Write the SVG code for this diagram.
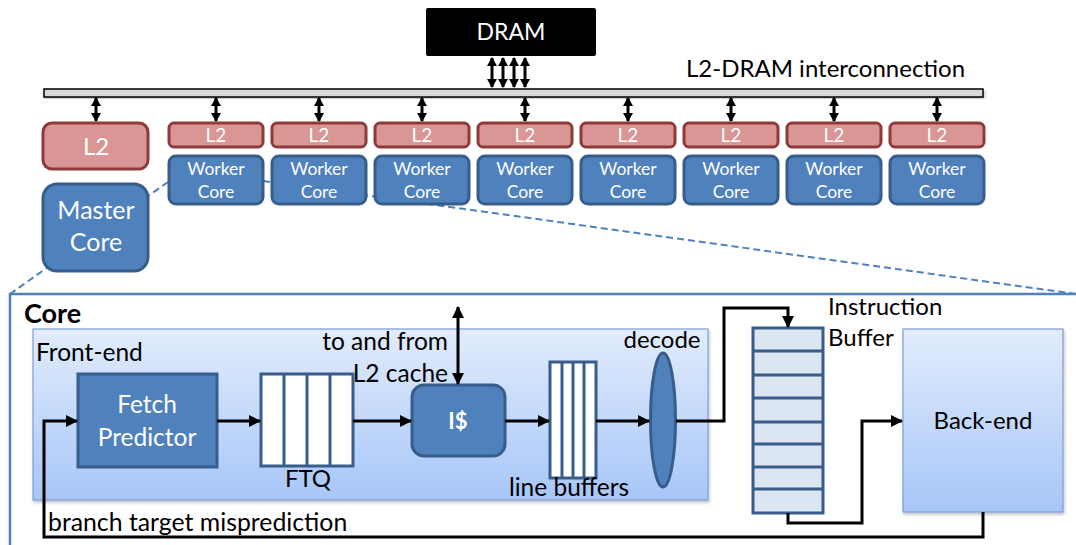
<svg xmlns="http://www.w3.org/2000/svg" width="1076" height="545" viewBox="0 0 1076 545">
  <style>
    text { font-family: Lato, "Liberation Sans", sans-serif; }
    .l2 { fill: #d99694; stroke: #8e3a38; stroke-width: 3; }
    .core { fill: #4f81bd; stroke: #385d8a; stroke-width: 3; }
    .wt { fill: #ffffff; text-anchor: middle; }
    .bt { fill: #000000; }
    .wire { fill: none; stroke: #000000; stroke-width: 3; }
    .bus { fill: none; stroke: #000000; stroke-width: 3; }
    .dash { fill: none; stroke: #4f81bd; stroke-width: 2; stroke-dasharray: 7 4; }
    .buf { fill: #ffffff; stroke: #385d8a; stroke-width: 3; }
  </style>
  <defs>
    <marker id="ah" markerUnits="userSpaceOnUse" markerWidth="12" markerHeight="12" viewBox="0 0 12 12" refX="11" refY="6" orient="auto-start-reverse">
      <path d="M0,0 L12,6 L0,12 z" fill="#000"/>
    </marker>
    <marker id="sh" markerUnits="userSpaceOnUse" markerWidth="9" markerHeight="10" viewBox="0 0 9 10" refX="8" refY="5" orient="auto-start-reverse">
      <path d="M0,0 L9,5 L0,10 z" fill="#000"/>
    </marker>
    <linearGradient id="pane" x1="0" y1="0" x2="0" y2="1">
      <stop offset="0" stop-color="#e2ecfc"/>
      <stop offset="1" stop-color="#a7c6f8"/>
    </linearGradient>
    <filter id="shadow" x="-5%" y="-5%" width="110%" height="120%">
      <feDropShadow dx="1" dy="2" stdDeviation="1.5" flood-color="#000" flood-opacity="0.25"/>
    </filter>
  </defs>

  <!-- call-out lines from the first worker core down to the enlarged view; drawn first so the boxes cover them -->
  <g id="callout">
    <path d="M168,182 L10,294" class="dash"/>
    <path d="M263,181 L1076,294" class="dash"/>
  </g>

  <!-- memory -->
  <g id="dram">
    <rect x="426" y="8" width="170" height="48" rx="2" fill="#000"/>
    <text x="511" y="40" class="wt" font-size="23">DRAM</text>
  </g>

  <g id="interconnect">
    <rect x="44" y="89" width="939" height="8" fill="#d9d9d9" stroke="#000" stroke-width="1.5" filter="url(#shadow)"/>
    <text x="686" y="77" class="bt" font-size="24">L2-DRAM interconnection</text>
  </g>

  <!-- master core and its L2 -->
  <g id="master-l2">
    <rect x="43" y="123" width="105" height="46" rx="9" class="l2"/>
    <text x="96" y="155" class="wt" font-size="24">L2</text>
  </g>
  <g id="master-core">
    <rect x="43" y="184" width="105" height="87" rx="14" class="core"/>
    <text x="96" y="219" class="wt" font-size="25">Master</text>
    <text x="96" y="251" class="wt" font-size="25">Core</text>
  </g>

  <!-- worker cores, each with a private L2 -->
  <g id="worker-1" transform="translate(169,0)">
    <rect x="0" y="123" width="94" height="24" rx="5" class="l2"/>
    <text x="47" y="142" class="wt" font-size="19">L2</text>
    <rect x="0" y="156" width="94" height="48" rx="7" class="core"/>
    <text x="47" y="175" class="wt" font-size="17.5">Worker</text>
    <text x="47" y="198" class="wt" font-size="17.5">Core</text>
  </g>
  <g id="worker-2" transform="translate(272,0)">
    <rect x="0" y="123" width="94" height="24" rx="5" class="l2"/>
    <text x="47" y="142" class="wt" font-size="19">L2</text>
    <rect x="0" y="156" width="94" height="48" rx="7" class="core"/>
    <text x="47" y="175" class="wt" font-size="17.5">Worker</text>
    <text x="47" y="198" class="wt" font-size="17.5">Core</text>
  </g>
  <g id="worker-3" transform="translate(375,0)">
    <rect x="0" y="123" width="94" height="24" rx="5" class="l2"/>
    <text x="47" y="142" class="wt" font-size="19">L2</text>
    <rect x="0" y="156" width="94" height="48" rx="7" class="core"/>
    <text x="47" y="175" class="wt" font-size="17.5">Worker</text>
    <text x="47" y="198" class="wt" font-size="17.5">Core</text>
  </g>
  <g id="worker-4" transform="translate(478,0)">
    <rect x="0" y="123" width="94" height="24" rx="5" class="l2"/>
    <text x="47" y="142" class="wt" font-size="19">L2</text>
    <rect x="0" y="156" width="94" height="48" rx="7" class="core"/>
    <text x="47" y="175" class="wt" font-size="17.5">Worker</text>
    <text x="47" y="198" class="wt" font-size="17.5">Core</text>
  </g>
  <g id="worker-5" transform="translate(581,0)">
    <rect x="0" y="123" width="94" height="24" rx="5" class="l2"/>
    <text x="47" y="142" class="wt" font-size="19">L2</text>
    <rect x="0" y="156" width="94" height="48" rx="7" class="core"/>
    <text x="47" y="175" class="wt" font-size="17.5">Worker</text>
    <text x="47" y="198" class="wt" font-size="17.5">Core</text>
  </g>
  <g id="worker-6" transform="translate(684,0)">
    <rect x="0" y="123" width="94" height="24" rx="5" class="l2"/>
    <text x="47" y="142" class="wt" font-size="19">L2</text>
    <rect x="0" y="156" width="94" height="48" rx="7" class="core"/>
    <text x="47" y="175" class="wt" font-size="17.5">Worker</text>
    <text x="47" y="198" class="wt" font-size="17.5">Core</text>
  </g>
  <g id="worker-7" transform="translate(787,0)">
    <rect x="0" y="123" width="94" height="24" rx="5" class="l2"/>
    <text x="47" y="142" class="wt" font-size="19">L2</text>
    <rect x="0" y="156" width="94" height="48" rx="7" class="core"/>
    <text x="47" y="175" class="wt" font-size="17.5">Worker</text>
    <text x="47" y="198" class="wt" font-size="17.5">Core</text>
  </g>
  <g id="worker-8" transform="translate(890,0)">
    <rect x="0" y="123" width="94" height="24" rx="5" class="l2"/>
    <text x="47" y="142" class="wt" font-size="19">L2</text>
    <rect x="0" y="156" width="94" height="48" rx="7" class="core"/>
    <text x="47" y="175" class="wt" font-size="17.5">Worker</text>
    <text x="47" y="198" class="wt" font-size="17.5">Core</text>
  </g>

  <!-- enlarged view of one core -->
  <g id="core-frame">
    <rect x="10" y="294" width="1100" height="300" fill="#ffffff" stroke="#4f81bd" stroke-width="2.5" filter="url(#shadow)"/>
    <text x="24" y="323" class="bt" font-size="27" font-weight="bold">Core</text>
  </g>

  <g id="front-end">
    <rect x="33" y="329" width="675" height="171" fill="url(#pane)" stroke="#7aa0d6" stroke-width="1.2" filter="url(#shadow)"/>
    <text x="36" y="361" class="bt" font-size="24.5">Front-end</text>
  </g>

  <g id="fetch-predictor">
    <rect x="78" y="374" width="139" height="93" class="core"/>
    <text x="147" y="413" class="wt" font-size="24.5">Fetch</text>
    <text x="147" y="446" class="wt" font-size="24.5">Predictor</text>
  </g>

  <g id="ftq">
    <rect x="261" y="374" width="92" height="92" class="buf"/>
    <line x1="284" y1="374" x2="284" y2="466" stroke="#385d8a" stroke-width="3"/>
    <line x1="307" y1="374" x2="307" y2="466" stroke="#385d8a" stroke-width="3"/>
    <line x1="330" y1="374" x2="330" y2="466" stroke="#385d8a" stroke-width="3"/>
    <text x="308" y="487" class="bt" font-size="24" text-anchor="middle">FTQ</text>
  </g>

  <g id="icache">
    <rect x="412" y="385" width="93" height="71" rx="12" class="core"/>
    <text x="458" y="429" class="wt" font-size="22" font-weight="bold">I$</text>
    <text x="448" y="350" class="bt" font-size="24.5" text-anchor="end">to and from</text>
    <text x="448" y="382" class="bt" font-size="24.5" text-anchor="end">L2 cache</text>
  </g>

  <g id="line-buffers">
    <rect x="550" y="362" width="46" height="116" class="buf"/>
    <line x1="562" y1="362" x2="562" y2="478" stroke="#385d8a" stroke-width="3"/>
    <line x1="573" y1="362" x2="573" y2="478" stroke="#385d8a" stroke-width="3"/>
    <line x1="584" y1="362" x2="584" y2="478" stroke="#385d8a" stroke-width="3"/>
    <text x="569" y="496" class="bt" font-size="24.5" text-anchor="middle">line buffers</text>
  </g>

  <g id="decode">
    <ellipse cx="663" cy="420" rx="12.5" ry="67" class="core"/>
    <text x="662" y="348" class="bt" font-size="24" text-anchor="middle">decode</text>
  </g>

  <g id="instruction-buffer">
    <rect x="753" y="328" width="70" height="185" fill="#dce6f2" stroke="#385d8a" stroke-width="3"/>
    <path d="M753,351 H823 M753,375 H823 M753,398 H823 M753,422 H823 M753,444 H823 M753,467 H823 M753,489 H823" stroke="#385d8a" stroke-width="3"/>
    <text x="828" y="315" class="bt" font-size="24">Instruction</text>
    <text x="828" y="346" class="bt" font-size="24">Buffer</text>
  </g>

  <g id="back-end">
    <rect x="903" y="329" width="160" height="183" fill="url(#pane)" stroke="#7aa0d6" stroke-width="1.2" filter="url(#shadow)"/>
    <text x="983" y="429" class="bt" font-size="24" text-anchor="middle">Back-end</text>
  </g>

  <text x="48" y="531" class="bt" font-size="24.8">branch target misprediction</text>

  <g id="connectors">
    <!-- DRAM to interconnect -->
    <path d="M492,58 V87" class="bus" marker-start="url(#sh)" marker-end="url(#sh)"/>
    <path d="M503,58 V87" class="bus" marker-start="url(#sh)" marker-end="url(#sh)"/>
    <path d="M514,58 V87" class="bus" marker-start="url(#sh)" marker-end="url(#sh)"/>
    <path d="M525,58 V87" class="bus" marker-start="url(#sh)" marker-end="url(#sh)"/>

    <!-- interconnect to each L2 -->
    <path d="M96,98 V121" class="bus" marker-start="url(#sh)" marker-end="url(#sh)"/>
    <path d="M216,98 V121" class="bus" marker-start="url(#sh)" marker-end="url(#sh)"/>
    <path d="M319,98 V121" class="bus" marker-start="url(#sh)" marker-end="url(#sh)"/>
    <path d="M422,98 V121" class="bus" marker-start="url(#sh)" marker-end="url(#sh)"/>
    <path d="M525,98 V121" class="bus" marker-start="url(#sh)" marker-end="url(#sh)"/>
    <path d="M628,98 V121" class="bus" marker-start="url(#sh)" marker-end="url(#sh)"/>
    <path d="M731,98 V121" class="bus" marker-start="url(#sh)" marker-end="url(#sh)"/>
    <path d="M834,98 V121" class="bus" marker-start="url(#sh)" marker-end="url(#sh)"/>
    <path d="M937,98 V121" class="bus" marker-start="url(#sh)" marker-end="url(#sh)"/>

    <!-- pipeline flow -->
    <path d="M217,421 H260" class="wire" marker-end="url(#ah)"/>
    <path d="M353,421 H411" class="wire" marker-end="url(#ah)"/>
    <path d="M458,307 V384" class="wire" marker-start="url(#ah)" marker-end="url(#ah)"/>
    <path d="M505,421 H549" class="wire" marker-end="url(#ah)"/>
    <path d="M596,421 H649" class="wire" marker-end="url(#ah)"/>
    <path d="M676,421 H724 V308 H788 V327" class="wire" marker-end="url(#ah)"/>
    <path d="M788,513 V523 H862 V421 H902" class="wire" marker-end="url(#ah)"/>
    <path d="M983,512 V537 H44 V421 H77" class="wire" marker-end="url(#ah)"/>
  </g>
</svg>
